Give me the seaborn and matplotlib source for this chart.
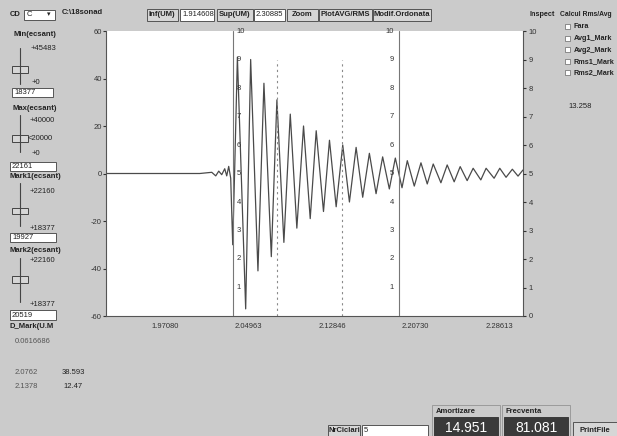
import matplotlib
matplotlib.use('Agg')
import matplotlib.pyplot as plt
from matplotlib.patches import Rectangle
import seaborn as sns

sns.set_style('white')
plt.rcParams['font.family'] = ['Liberation Sans', 'DejaVu Sans']

W, H = 617, 436
BG = '#cbcbcb'

# semnal: timp (UM) si amplitudine (scala stanga)
timp = [1.91461, 2.00327, 2.01459, 2.01836, 2.02119, 2.02402, 2.02685, 2.02874,
        2.03062, 2.03251, 2.03440, 2.03628, 2.03883, 2.04666, 2.05137, 2.05826,
        2.06392, 2.07090, 2.07618, 2.08278, 2.08882, 2.09504, 2.10136, 2.10768,
        2.11334, 2.12023, 2.12589, 2.13221, 2.13843, 2.14475, 2.15107, 2.15730,
        2.16361, 2.16993, 2.17616, 2.18248, 2.18814, 2.19446, 2.19946, 2.20606,
        2.21238, 2.21832, 2.22398, 2.23124, 2.23718, 2.24378, 2.24945, 2.25605,
        2.26171, 2.26897, 2.27397, 2.28152, 2.28689, 2.29283, 2.29878, 2.30415,
        2.30887]
ampl = [0.0, 0.0, 0.5, -1.0, 1.0, -0.5, 2.0, -1.0,
        3.0, -2.0, -30.0, 2.0, 49.0, -57.0, 48.0, -41.0,
        38.0, -35.0, 31.0, -29.0, 25.0, -23.0, 20.0, -19.0,
        18.0, -16.0, 14.0, -14.0, 12.0, -12.0, 11.0, -10.0,
        8.5, -8.5, 7.0, -6.5, 6.5, -6.0, 5.4, -5.3,
        4.5, -4.4, 4.0, -3.9, 3.6, -3.5, 2.9, -3.0,
        2.2, -2.7, 2.2, -2.0, 2.2, -1.6, 1.8, -1.1,
        1.5]

x_inf, x_sup = 1.914608, 2.30885
x_ticks = [1.97080, 2.04963, 2.12846, 2.20730, 2.28613]
x_labels = ['1.97080', '2.04963', '2.12846', '2.20730', '2.28613']
y_ticks = [60, 40, 20, 0, -20, -40, -60]
y2_ticks = list(range(0, 11))
axe_mijloc = [2.0344, 2.1919]
markeri = [2.0762, 2.1378]

fig = plt.figure(figsize=(W / 100, H / 100), dpi=100, facecolor=BG)


def fx(x):
    return x / W


def fy(y):
    return 1 - y / H


def box(x0, y0, x1, y1, fc='white', ec='#555555', lw=0.7):
    fig.patches.append(Rectangle((fx(x0), fy(y1)), fx(x1) - fx(x0), fy(y0) - fy(y1),
                                 transform=fig.transFigure, fc=fc, ec=ec, lw=lw))


def txt(x, y, s, size=5.5, color='#222222', ha='left', **kw):
    fig.text(fx(x), fy(y), s, fontsize=size, color=color, ha=ha, va='center', **kw)


# grafic principal
ax = fig.add_axes([fx(106), fy(316), fx(523) - fx(106), (316 - 31) / H])
ax.set_facecolor('white')
sns.lineplot(x=timp, y=ampl, ax=ax, color='#4a4a4a', lw=0.9, sort=False, estimator=None)
ax.set_xlim(x_inf, x_sup)
ax.set_ylim(-60, 60)
ax.set_yticks(y_ticks)
ax.set_yticklabels([str(v) for v in y_ticks])
ax.set_xticks(x_ticks)
ax.set_xticklabels(x_labels)
ax.tick_params(axis='y', length=2, pad=1, labelsize=5.5, colors='#333333', left=True)
ax.tick_params(axis='x', length=0, pad=5, labelsize=5.5, colors='#333333')
for s in ['left', 'bottom', 'right']:
    ax.spines[s].set_color('#555555')
    ax.spines[s].set_linewidth(0.8)
ax.spines['top'].set_visible(False)

ax.vlines(markeri, -60, 48, colors='#8a8a8a', linestyles=(0, (2, 3)), lw=0.8)

ax2 = ax.twinx()
ax2.set_ylim(0, 10)
ax2.set_yticks(y2_ticks)
ax2.set_yticklabels([str(v) for v in y2_ticks])
ax2.tick_params(axis='y', length=2, pad=2, labelsize=5.5, colors='#333333', right=True)
for s in ['left', 'bottom', 'right', 'top']:
    ax2.spines[s].set_visible(False)

for i, xm in enumerate(axe_mijloc):
    ax2.axvline(xm, color='#777777', lw=0.8)
    for v in y2_ticks[1:]:
        if i == 0:
            ax2.annotate(str(v), (xm, v), xytext=(3, 0), textcoords='offset points',
                         ha='left', va='center', fontsize=5.5, color='#333333')
        else:
            ax2.annotate(str(v), (xm, v), xytext=(-4, 0), textcoords='offset points',
                         ha='right', va='center', fontsize=5.5, color='#333333')

# bara de sus
txt(10, 15, 'CD', weight='bold')
box(24, 10, 55, 20)
txt(27, 15, 'C')
txt(49, 15, '▾', size=5, ha='center')
txt(62, 12, 'C:\\18sonad', weight='bold')
box(147, 9, 178, 21, fc='#d6d6d6')
txt(162, 15, 'Inf(UM)', ha='center', weight='bold')
box(180, 9, 214, 21)
txt(182, 15, '1.914608')
box(217, 9, 253, 21, fc='#d6d6d6')
txt(235, 15, 'Sup(UM)', ha='center', weight='bold')
box(254, 9, 285, 21)
txt(256, 15, '2.30885')
box(287, 9, 318, 21, fc='#d6d6d6')
txt(302, 15, 'Zoom', ha='center', weight='bold')
box(319, 9, 372, 21, fc='#d6d6d6')
txt(345, 15, 'PlotAVG/RMS', ha='center', weight='bold')
box(373, 9, 431, 21, fc='#d6d6d6')
txt(402, 15, 'Modif.Ordonata', ha='center', weight='bold')
txt(530, 15, 'Inspect', weight='bold', size=5.2)
txt(560, 14, 'Calcul Rms/Avg', weight='bold', size=4.9)

# lista dreapta
for yy, s in zip([27, 38.5, 50, 61.5, 73], ['Fara', 'Avg1_Mark', 'Avg2_Mark', 'Rms1_Mark', 'Rms2_Mark']):
    box(565, yy - 2.5, 570, yy + 2.5, ec='#666666', lw=0.5)
    txt(574, yy, s, weight='bold', size=5.2)
txt(568, 107, '13.258')

# panou stanga


def slider(y_top, y_bot, y_thumb):
    fig.add_artist(plt.Line2D([fx(20), fx(20)], [fy(y_top), fy(y_bot)], transform=fig.transFigure,
                              color='#444444', lw=0.8))
    box(12, y_thumb - 3.5, 28, y_thumb + 3.5, fc='#d6d6d6', ec='#444444')


txt(13, 35, 'Min(ecsant)', weight='bold')
slider(48, 84, 70)
txt(31, 49, '+45483')
txt(32, 82, '+0')
box(12, 88, 53, 97)
txt(14, 92.5, '18377')

txt(12, 109, 'Max(ecsant)', weight='bold')
slider(115, 152, 138.5)
txt(30, 120, '+40000')
txt(28, 139, '<20000')
txt(32, 153, '+0')
box(10, 162, 56, 171)
txt(12, 166.5, '22161')

txt(10, 177, 'Mark1(ecsant)', weight='bold')
slider(183, 226, 211)
txt(30, 191, '+22160')
txt(30, 228, '+18377')
box(10, 233, 56, 242)
txt(12, 237.5, '19927')

txt(10, 250, 'Mark2(ecsant)', weight='bold')
slider(258, 302, 279.5)
txt(30, 261, '+22160')
txt(30, 304, '+18377')
box(10, 310, 56, 320)
txt(12, 315, '20519')
txt(10, 326, 'D_Mark(U.M', weight='bold')
txt(15, 341, '0.0616686', color='#555555')
txt(15, 372, '2.0762', color='#555555')
txt(62, 372, '38.593')
txt(15, 386, '2.1378', color='#555555')
txt(63, 386, '12.47')

# jos
box(328, 425, 360, 436, fc='#d6d6d6')
txt(344, 430, 'NrCiclari', ha='center', weight='bold')
box(362, 425, 428, 436)
txt(364, 430, '5')
box(432, 405, 500, 436, fc=BG, ec='#888888', lw=0.5)
txt(436, 411, 'Amortizare', weight='bold')
box(434, 417, 498, 436, fc='#3a3a3a', ec='#3a3a3a')
txt(466, 428, '14.951', size=10, color='white', ha='center')
box(502, 405, 570, 436, fc=BG, ec='#888888', lw=0.5)
txt(506, 411, 'Frecventa', weight='bold')
box(504, 417, 568, 436, fc='#3a3a3a', ec='#3a3a3a')
txt(536, 428, '81.081', size=10, color='white', ha='center')
box(573, 422, 617, 436, fc='#d6d6d6')
txt(595, 430, 'PrintFile', ha='center', weight='bold')

fig.savefig('out.png', dpi=100, facecolor=BG)
